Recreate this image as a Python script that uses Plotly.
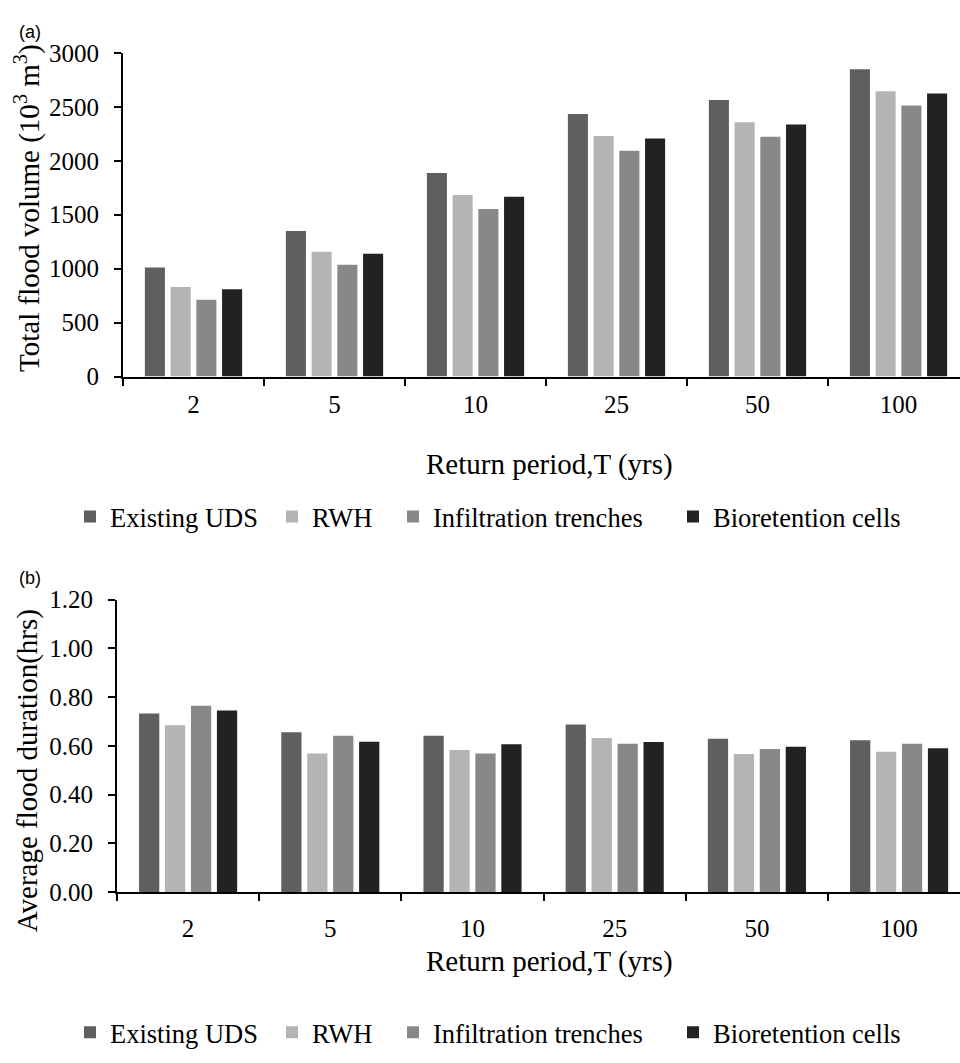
import plotly.graph_objects as go

# Return periods (years)
return_periods = ["2", "5", "10", "25", "50", "100"]
series_names = ["Existing UDS", "RWH", "Infiltration trenches", "Bioretention cells"]
series_colors = ["#5f5f5f", "#b4b4b4", "#888888", "#222222"]

# (a) Total flood volume (10^3 m^3)
vol_existing = [1012, 1349, 1886, 2434, 2563, 2849]
vol_rwh = [831, 1157, 1684, 2229, 2358, 2645]
vol_infiltration = [711, 1036, 1554, 2093, 2223, 2512]
vol_bioretention = [810, 1139, 1666, 2208, 2337, 2623]

# (b) Average flood duration (hrs)
dur_existing = [0.733, 0.656, 0.642, 0.688, 0.629, 0.623]
dur_rwh = [0.685, 0.569, 0.583, 0.632, 0.567, 0.576]
dur_infiltration = [0.765, 0.642, 0.569, 0.609, 0.587, 0.609]
dur_bioretention = [0.745, 0.617, 0.607, 0.616, 0.596, 0.590]

volume_series = [vol_existing, vol_rwh, vol_infiltration, vol_bioretention]
duration_series = [dur_existing, dur_rwh, dur_infiltration, dur_bioretention]

W, H = 960, 1063
SERIF = "Liberation Serif, Times New Roman, serif"
SANS = "Liberation Sans, Arial, sans-serif"

# left edge of each legend entry (px) and legend row centres (px from top)
legend_left = [70, 272, 393, 673]
legend_rows = [517, 1046]


def py(px):
    """Pixel row from the top -> paper y."""
    return 1 - px / H


fig = go.Figure()

panels = [("x", "y", volume_series), ("x2", "y2", duration_series)]
legend_layout = {}
n = 0
for p, (xa, ya, data) in enumerate(panels):
    for i, (name, color, vals) in enumerate(zip(series_names, series_colors, data)):
        n += 1
        key = "legend" if n == 1 else f"legend{n}"
        fig.add_trace(go.Bar(
            x=return_periods, y=vals, name=name, marker_color=color,
            marker_line_width=0, xaxis=xa, yaxis=ya, legend=key,
        ))
        legend_layout[key] = dict(
            orientation="h", x=legend_left[i] / W, xanchor="left",
            y=py(legend_rows[p]), yanchor="middle",
            font=dict(family=SERIF, size=26.5, color="black"),
            bgcolor="rgba(0,0,0,0)", itemclick=False, itemdoubleclick=False,
        )

axis_common = dict(
    showline=True, linecolor="black", linewidth=2,
    ticks="outside", tickcolor="black", tickwidth=2, ticklen=7,
    showgrid=False, zeroline=False,
    tickfont=dict(family=SERIF, size=25, color="black"),
)

fig.update_layout(
    width=W, height=H,
    margin=dict(l=0, r=0, t=0, b=0),
    paper_bgcolor="white", plot_bgcolor="white",
    barmode="group", bargap=0.27, bargroupgap=0.22,
    showlegend=True,
    xaxis=dict(
        domain=[123 / W, 1], anchor="y", type="category",
        range=[-0.5, -0.5 + 837 / 141], tickson="boundaries",
        ticklabelstandoff=4, **axis_common,
    ),
    yaxis=dict(
        domain=[py(373), py(41)], anchor="x", range=[0, 3000], dtick=500,
        ticklabelstandoff=10, **axis_common,
    ),
    xaxis2=dict(
        domain=[117 / W, 1], anchor="y2", type="category",
        range=[-0.5, -0.5 + 843 / 142.2], tickson="boundaries",
        ticklabelstandoff=13, **axis_common,
    ),
    yaxis2=dict(
        domain=[py(902), py(602)], anchor="x2", range=[0, 1.2], dtick=0.2,
        tickformat=".2f", ticklabelstandoff=10, **axis_common,
    ),
    **legend_layout,
)

annotations = [
    dict(text="(a)", x=30 / W, y=py(20), font=dict(family=SANS, size=18)),
    dict(text="(b)", x=30 / W, y=py(580), font=dict(family=SANS, size=18)),
    dict(text="Return period,T (yrs)", x=549 / W, y=py(463),
         font=dict(family=SERIF, size=29)),
    dict(text="Return period,T (yrs)", x=549 / W, y=py(973),
         font=dict(family=SERIF, size=29)),
    dict(text="Total flood volume (10<sup>3</sup> m<sup>3</sup>)", x=28 / W, y=py(200),
         textangle=-90, font=dict(family=SERIF, size=29)),
    dict(text="Average flood duration(hrs)", x=27 / W, y=py(778),
         textangle=-90, font=dict(family=SERIF, size=29)),
]
for a in annotations:
    a.setdefault("xref", "paper")
    a.setdefault("yref", "paper")
    a.setdefault("showarrow", False)
    a.setdefault("xanchor", "center")
    a.setdefault("yanchor", "middle")
    a["font"].setdefault("color", "black")
    fig.add_annotation(**a)

fig.write_html("out.html")
